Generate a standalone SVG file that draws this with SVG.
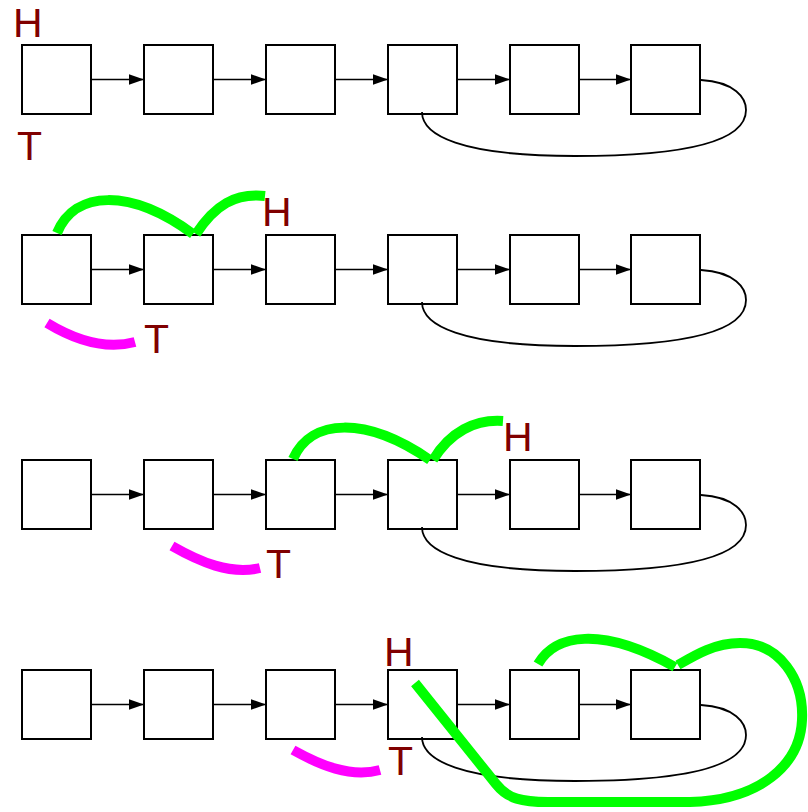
<svg xmlns="http://www.w3.org/2000/svg" width="808" height="812" viewBox="0 0 808 812">
<style>
.box{fill:#fff;stroke:#000;stroke-width:2}
.arr{fill:none;stroke:#000;stroke-width:1.6;marker-end:url(#ah)}
.loop{fill:none;stroke:#000;stroke-width:1.8}
.g{fill:none;stroke:#00ff00;stroke-width:10}
.m{fill:none;stroke:#ff00ff;stroke-width:10}
.lbl{font-family:"Liberation Sans",Arial,sans-serif;font-size:41px;fill:#800000}
</style>
<defs>
<marker id="ah" markerWidth="15" markerHeight="12" refX="15" refY="6" orient="auto" markerUnits="userSpaceOnUse">
<path d="M0,0.8 L15,6 L0,11.2 Z" fill="#000"/>
</marker>
</defs>
<rect width="808" height="812" fill="#fff"/>

<!-- Row 1 -->
<g id="r1n1"><rect class="box" x="22" y="45" width="69" height="69"/></g>
<g id="r1n2"><rect class="box" x="144" y="45" width="69" height="69"/></g>
<g id="r1n3"><rect class="box" x="266" y="45" width="69" height="69"/></g>
<g id="r1n4"><rect class="box" x="388" y="45" width="69" height="69"/></g>
<g id="r1n5"><rect class="box" x="510" y="45" width="69" height="69"/></g>
<g id="r1n6"><rect class="box" x="631" y="45" width="69" height="69"/></g>
<!-- Row 2 -->
<g id="r2n1"><rect class="box" x="22" y="235" width="69" height="69"/></g>
<g id="r2n2"><rect class="box" x="144" y="235" width="69" height="69"/></g>
<g id="r2n3"><rect class="box" x="266" y="235" width="69" height="69"/></g>
<g id="r2n4"><rect class="box" x="388" y="235" width="69" height="69"/></g>
<g id="r2n5"><rect class="box" x="510" y="235" width="69" height="69"/></g>
<g id="r2n6"><rect class="box" x="631" y="235" width="69" height="69"/></g>
<!-- Row 3 -->
<g id="r3n1"><rect class="box" x="22" y="460" width="69" height="69"/></g>
<g id="r3n2"><rect class="box" x="144" y="460" width="69" height="69"/></g>
<g id="r3n3"><rect class="box" x="266" y="460" width="69" height="69"/></g>
<g id="r3n4"><rect class="box" x="388" y="460" width="69" height="69"/></g>
<g id="r3n5"><rect class="box" x="510" y="460" width="69" height="69"/></g>
<g id="r3n6"><rect class="box" x="631" y="460" width="69" height="69"/></g>
<!-- Row 4 -->
<g id="r4n1"><rect class="box" x="22" y="670" width="69" height="69"/></g>
<g id="r4n2"><rect class="box" x="144" y="670" width="69" height="69"/></g>
<g id="r4n3"><rect class="box" x="266" y="670" width="69" height="69"/></g>
<g id="r4n4"><rect class="box" x="388" y="670" width="69" height="69"/></g>
<g id="r4n5"><rect class="box" x="510" y="670" width="69" height="69"/></g>
<g id="r4n6"><rect class="box" x="631" y="670" width="69" height="69"/></g>

<g id="connectors">
<path class="arr" d="M91,79.5 H144"/><path class="arr" d="M213,79.5 H266"/><path class="arr" d="M335,79.5 H388"/><path class="arr" d="M457,79.5 H510"/><path class="arr" d="M579,79.5 H631"/>
<path class="loop" d="M701,80 C735,82 746,98 746,110 C746,140 690,156 575,156 C460,156 422,135 422,112"/>
<path class="arr" d="M91,269.5 H144"/><path class="arr" d="M213,269.5 H266"/><path class="arr" d="M335,269.5 H388"/><path class="arr" d="M457,269.5 H510"/><path class="arr" d="M579,269.5 H631"/>
<path class="loop" d="M701,270 C735,272 746,288 746,300 C746,330 690,346 575,346 C460,346 422,325 422,302"/>
<path class="arr" d="M91,494.5 H144"/><path class="arr" d="M213,494.5 H266"/><path class="arr" d="M335,494.5 H388"/><path class="arr" d="M457,494.5 H510"/><path class="arr" d="M579,494.5 H631"/>
<path class="loop" d="M701,495 C735,497 746,513 746,525 C746,555 690,571 575,571 C460,571 422,550 422,527"/>
<path class="arr" d="M91,704.5 H144"/><path class="arr" d="M213,704.5 H266"/><path class="arr" d="M335,704.5 H388"/><path class="arr" d="M457,704.5 H510"/><path class="arr" d="M579,704.5 H631"/>
<path class="loop" d="M701,705 C735,707 746,723 746,735 C746,765 690,781 575,781 C460,781 422,760 422,737"/>
</g>

<g id="highlights">
<path class="g" d="M57,233 C75,190 130,188 193,234"/>
<path class="g" d="M196,234 C215,205 235,193 265,196"/>
<path class="m" d="M47,323 C75,340 105,350 135,342"/>
<path class="g" d="M293,459 C311,418 366,416 430,460"/>
<path class="g" d="M433,460 C450,432 475,419 503,421"/>
<path class="m" d="M172,546 C200,562 230,575 260,568"/>
<path class="g" d="M415,683 L496,784 C508,799 522,802 548,802 L690,802 C760,800 800,765 802,720 C804,680 780,643 740,643 C715,643 695,655 678,665"/>
<path class="g" d="M538,664 C555,635 600,625 675,667"/>
<path class="m" d="M293,750 C320,765 350,778 380,770"/>
</g>

<g id="labels">
<text class="lbl" x="13" y="37">H</text>
<text class="lbl" x="17" y="160">T</text>
<text class="lbl" x="262" y="226">H</text>
<text class="lbl" x="144" y="353">T</text>
<text class="lbl" x="503" y="451">H</text>
<text class="lbl" x="266" y="578">T</text>
<text class="lbl" x="384" y="666">H</text>
<text class="lbl" x="388" y="775">T</text>
</g>
</svg>
